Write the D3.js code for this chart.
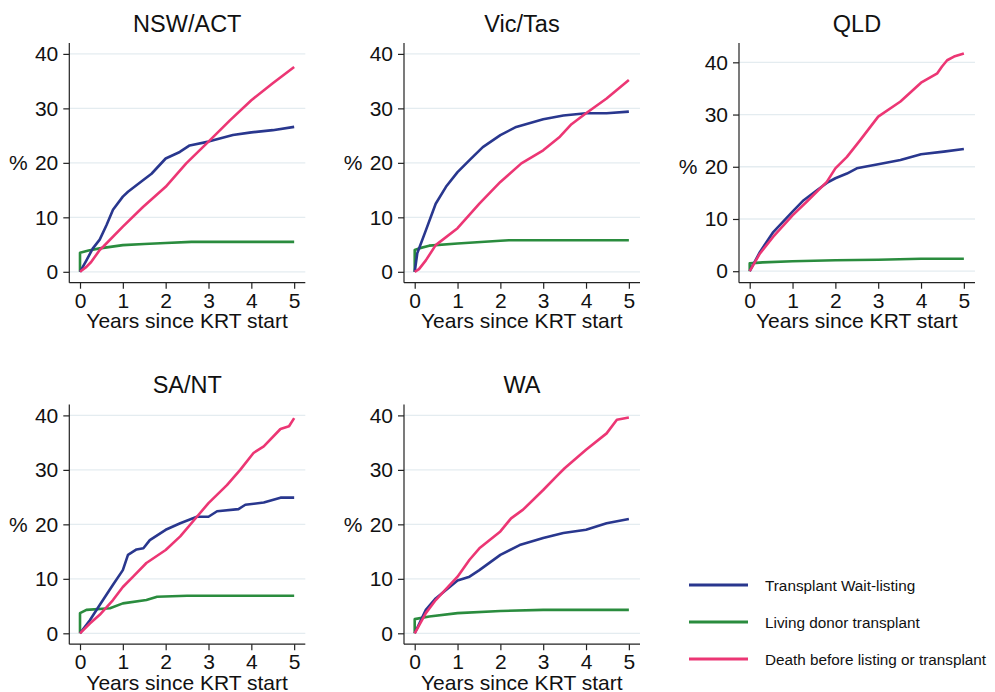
<!DOCTYPE html>
<html>
<head>
<meta charset="utf-8">
<script src="https://cdn.jsdelivr.net/npm/d3@7"></script>
<style>
  html, body { margin: 0; padding: 0; background: #fff; }
  svg { display: block; font-family: "Liberation Sans", Arial, Helvetica, sans-serif; }
</style>
</head>
<body>
<svg id="chart" width="995" height="692"></svg>
<script>
// ---------- data ----------
const categories = ["NSW/ACT", "Vic/Tas", "QLD", "SA/NT", "WA"];
const seriesNames = ["Transplant Wait-listing", "Living donor transplant", "Death before listing or transplant"];
const seriesColors = ["#29378e", "#2a8c3e", "#ec3674"];
const xTicks = [0, 1, 2, 3, 4, 5];
const yTicks = [0, 10, 20, 30, 40];
const xAxisLabel = "Years since KRT start";
const yAxisLabel = "%";

// [years, %]
const nswWait  = [[0,0],[0.15,2.1],[0.3,4.3],[0.46,5.9],[0.62,8.6],[0.77,11.4],[1.0,13.8],[1.12,14.7],[1.47,16.8],[1.67,18.0],[2.0,20.8],[2.33,22.0],[2.56,23.2],[3.0,23.9],[3.57,25.1],[4.0,25.6],[4.5,26.0],[5.0,26.6]];
const nswLiving = [[0,0],[0,3.5],[0.2,3.9],[0.46,4.3],[1.0,4.9],[1.5,5.1],[2.0,5.3],[2.6,5.5],[3.0,5.5],[5.0,5.5]];
const nswDeath = [[0,0],[0.15,0.9],[0.26,1.8],[0.46,4.0],[0.54,4.6],[1.0,8.3],[1.47,11.9],[2.0,15.6],[2.48,19.9],[3.0,23.9],[3.5,27.8],[4.0,31.5],[4.5,34.6],[5.0,37.6]];

const vicWait  = [[0,0],[0.06,3.4],[0.26,7.6],[0.49,12.5],[0.73,15.6],[1.0,18.3],[1.28,20.5],[1.59,22.9],[2.0,25.1],[2.37,26.6],[3.0,28.0],[3.47,28.7],[4.0,29.1],[4.48,29.1],[5.0,29.4]];
const vicLiving = [[0,0],[0,4.0],[0.1,4.3],[0.34,4.8],[1.0,5.2],[2.0,5.7],[2.2,5.8],[5.0,5.8]];
const vicDeath = [[0,0],[0.1,0.5],[0.26,2.1],[0.49,4.9],[1.0,8.0],[1.51,12.5],[2.0,16.5],[2.49,19.9],[3.0,22.3],[3.39,24.8],[3.66,27.1],[4.0,29.1],[4.48,31.8],[5.0,35.2]];

const qldWait  = [[0,0],[0.24,3.7],[0.55,7.5],[1.0,11.4],[1.26,13.6],[1.57,15.5],[1.8,16.9],[2.0,17.8],[2.27,18.7],[2.5,19.7],[3.0,20.5],[3.52,21.3],[4.0,22.4],[4.53,22.9],[5.0,23.4]];
const qldLiving = [[0,0],[0,1.5],[0.3,1.7],[1.0,1.9],[2.0,2.1],[3.0,2.2],[4.0,2.4],[5.0,2.4]];
const qldDeath = [[0,0],[0.24,3.4],[0.55,6.6],[1.0,10.7],[1.33,13.3],[1.8,17.1],[2.0,19.7],[2.27,21.9],[2.58,25.1],[3.0,29.6],[3.52,32.5],[4.0,36.1],[4.38,37.9],[4.49,39.2],[4.61,40.4],[4.77,41.1],[5.0,41.7]];

const saWait  = [[0,0],[0.23,2.4],[0.46,5.2],[0.77,8.9],[1.0,11.6],[1.12,14.4],[1.32,15.4],[1.48,15.6],[1.63,17.1],[2.0,19.0],[2.34,20.2],[2.73,21.4],[3.0,21.4],[3.2,22.4],[3.7,22.8],[3.86,23.6],[4.29,24.0],[4.68,24.9],[5.0,24.9]];
const saLiving = [[0,0],[0,3.7],[0.15,4.3],[0.7,4.6],[1.0,5.5],[1.55,6.1],[1.8,6.7],[2.5,6.9],[5.0,6.9]];
const saDeath = [[0,0],[0.23,1.8],[0.46,3.4],[0.77,6.1],[1.0,8.5],[1.24,10.4],[1.55,12.9],[2.0,15.3],[2.34,17.8],[2.73,21.4],[3.0,23.9],[3.43,27.2],[3.74,30.0],[4.05,33.1],[4.29,34.3],[4.68,37.5],[4.88,38.0],[5.0,39.5]];

const waWait  = [[0,0],[0.26,4.3],[0.49,6.4],[1.0,9.7],[1.28,10.4],[1.51,11.6],[2.0,14.4],[2.45,16.2],[3.0,17.5],[3.47,18.4],[4.0,19.0],[4.48,20.2],[5.0,21.0]];
const waLiving = [[0,0],[0,2.6],[0.34,3.1],[1.0,3.7],[2.0,4.1],[3.0,4.3],[5.0,4.3]];
const waDeath = [[0,0],[0.26,3.7],[0.49,6.1],[1.0,10.4],[1.28,13.5],[1.51,15.6],[2.0,18.7],[2.25,21.1],[2.53,22.7],[3.0,26.3],[3.31,28.8],[3.5,30.3],[4.0,33.7],[4.48,36.7],[4.72,39.2],[5.0,39.6]];

const panelSeries = [
  [nswWait, nswLiving, nswDeath],
  [vicWait, vicLiving, vicDeath],
  [qldWait, qldLiving, qldDeath],
  [saWait, saLiving, saDeath],
  [waWait, waLiving, waDeath]
];
const yDomains = [[-2, 42], [-2, 42], [-2.2, 43.7], [-2, 42], [-2, 42]];
const xDomain = [-0.25, 5.26];

// ---------- layout ----------
const svg = d3.select("#chart");
const font = '"Liberation Sans", Arial, Helvetica, sans-serif';
const colLeft = [69.3, 404, 739];
const rowTop = [43, 404.5];
const plotW = 236, plotH = 239.7;
const positions = [[0,0],[1,0],[2,0],[0,1],[1,1]];

categories.forEach((name, i) => {
  const [c, r] = positions[i];
  const left = colLeft[c], top = rowTop[r];
  const x = d3.scaleLinear().domain(xDomain).range([left, left + plotW]);
  const y = d3.scaleLinear().domain(yDomains[i]).range([top + plotH, top]);
  const g = svg.append("g");

  // grid
  g.selectAll("line.grid").data(yTicks).join("line")
    .attr("x1", left).attr("x2", left + plotW)
    .attr("y1", d => y(d)).attr("y2", d => y(d))
    .attr("stroke", "#e4ecf0").attr("stroke-width", 1.3);

  // y axis
  const yAxis = d3.axisLeft(y).tickValues(yTicks).tickSize(6).tickPadding(5).tickFormat(d3.format("d"));
  const ya = g.append("g").attr("transform", `translate(${left},0)`).call(yAxis);
  ya.select(".domain").attr("d", `M-0,${top}V${top + plotH}`).attr("stroke", "#222").attr("stroke-width", 1.2);
  ya.selectAll(".tick line").attr("stroke", "#222").attr("stroke-width", 1.2);
  ya.selectAll(".tick text").attr("font-size", 21).attr("font-family", font).attr("fill", "#111");

  // x axis
  const xAxis = d3.axisBottom(x).tickValues(xTicks).tickSize(6).tickPadding(4).tickFormat(d3.format("d"));
  const xa = g.append("g").attr("transform", `translate(0,${top + plotH})`).call(xAxis);
  xa.select(".domain").attr("d", `M${left},0H${left + plotW}`).attr("stroke", "#222").attr("stroke-width", 1.2);
  xa.selectAll(".tick line").attr("stroke", "#222").attr("stroke-width", 1.2);
  xa.selectAll(".tick text").attr("font-size", 21).attr("font-family", font).attr("fill", "#111");

  // labels
  g.append("text").attr("x", left + plotW / 2).attr("y", top - 11.3)
    .attr("text-anchor", "middle").attr("font-size", 23.5).attr("fill", "#111").text(name);
  g.append("text").attr("x", x(2.5)).attr("y", top + plotH + 45.5)
    .attr("text-anchor", "middle").attr("font-size", 21).attr("fill", "#111").text(xAxisLabel);
  g.append("text").attr("x", left - 51).attr("y", y(20))
    .attr("text-anchor", "middle").attr("dominant-baseline", "central")
    .attr("font-size", 21).attr("fill", "#111").text(yAxisLabel);

  // series lines: green, blue, then pink on top
  const line = d3.line().x(d => x(d[0])).y(d => y(d[1])).curve(d3.curveLinear);
  [1, 0, 2].forEach(k => {
    g.append("path").datum(panelSeries[i][k])
      .attr("d", line).attr("fill", "none")
      .attr("stroke", seriesColors[k]).attr("stroke-width", 2.6)
      .attr("stroke-linejoin", "round");
  });
});

// ---------- legend ----------
const legY = [585, 622, 659];
const leg = svg.append("g");
seriesNames.forEach((s, k) => {
  leg.append("line").attr("x1", 689).attr("x2", 748).attr("y1", legY[k]).attr("y2", legY[k])
    .attr("stroke", seriesColors[k]).attr("stroke-width", 3);
  leg.append("text").attr("x", 765).attr("y", legY[k]).attr("dominant-baseline", "central")
    .attr("font-size", 15.3).attr("fill", "#111").text(s);
});
</script>
</body>
</html>
